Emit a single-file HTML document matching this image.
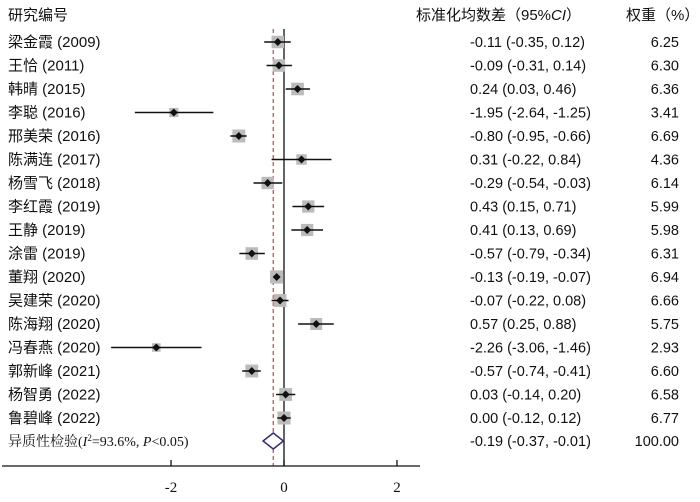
<!DOCTYPE html>
<html><head><meta charset="utf-8"><style>
body{margin:0;background:#fff;}
svg text{font-family:"Liberation Sans","Noto Sans CJK SC",sans-serif;fill:#111;}
svg text.serif{font-family:"Liberation Serif","Noto Serif CJK SC",serif;}
</style></head><body>
<svg width="700" height="497" viewBox="0 0 700 497" xmlns="http://www.w3.org/2000/svg">
<g id="g"></g>
</svg>
<script>
const studies=["梁金霞 (2009)","王恰 (2011)","韩晴 (2015)","李聪 (2016)","邢美荣 (2016)","陈满连 (2017)","杨雪飞 (2018)","李红霞 (2019)","王静 (2019)","涂雷 (2019)","董翔 (2020)","吴建荣 (2020)","陈海翔 (2020)","冯春燕 (2020)","郭新峰 (2021)","杨智勇 (2022)","鲁碧峰 (2022)"];
const est=[-0.11,-0.09,0.24,-1.95,-0.80,0.31,-0.29,0.43,0.41,-0.57,-0.13,-0.07,0.57,-2.26,-0.57,0.03,0.00];
const lo=[-0.35,-0.31,0.03,-2.64,-0.95,-0.22,-0.54,0.15,0.13,-0.79,-0.19,-0.22,0.25,-3.06,-0.74,-0.14,-0.12];
const hi=[0.12,0.14,0.46,-1.25,-0.66,0.84,-0.03,0.71,0.69,-0.34,-0.07,0.08,0.88,-1.46,-0.41,0.20,0.12];
const weights=[6.25,6.30,6.36,3.41,6.69,4.36,6.14,5.99,5.98,6.31,6.94,6.66,5.75,2.93,6.60,6.58,6.77];
const pooled=[-0.19,-0.37,-0.01,100.00];
const ticks=[-2,0,2];
const g=document.getElementById('g');const NS="http://www.w3.org/2000/svg";
const X=v=>284+v*56.5;const Y=i=>42+i*23.5;
function el(t,a,txt){const e=document.createElementNS(NS,t);for(const k in a)e.setAttribute(k,a[k]);if(txt!==undefined)e.textContent=txt;g.appendChild(e);return e;}
const f=v=>v.toFixed(2);
let e;
e=el('text',{x:8,y:20,'font-size':15},'研究编号');
e=el('text',{x:416,y:20,'font-size':15},'');
e.innerHTML='标准化均数差（95%<tspan font-style="italic">CI</tspan>）';
e=el('text',{x:626,y:20,'font-size':15},'权重（%）');
e=el('line',{x1:X(0),x2:X(0),y1:29,y2:466,stroke:'#111','stroke-width':1.3});
e=el('line',{x1:X(pooled[0]),x2:X(pooled[0]),y1:29,y2:466,stroke:'#b06060','stroke-width':1.3,'stroke-dasharray':'4,3'});
studies.forEach((s,i)=>{const y=Y(i);
e=el('text',{x:8,y:y+5,'font-size':15},s);
const sz=Math.sqrt(weights[i])*5;
e=el('rect',{x:X(est[i])-sz/2,y:y-sz/2,width:sz,height:sz,fill:'#bbb'});
e=el('line',{x1:X(lo[i]),x2:X(hi[i]),y1:y,y2:y,stroke:'#111','stroke-width':1.5});
e=el('path',{d:`M${X(est[i])-4} ${y}L${X(est[i])} ${y-4}L${X(est[i])+4} ${y}L${X(est[i])} ${y+4}Z`,fill:'#111'});
e=el('text',{x:470,y:y+5,'font-size':14.5},`${f(est[i])} (${f(lo[i])}, ${f(hi[i])})`);
e=el('text',{x:679,y:y+5,'font-size':14.5,'text-anchor':'end'},f(weights[i]));
});
const ys=441;
e=el('text',{x:8,y:ys+5,'font-size':14,'class':'serif'},'');
e.innerHTML='异质性检验(<tspan font-style="italic">I</tspan><tspan font-size="9" dy="-5">2</tspan><tspan dy="5">=93.6%, </tspan><tspan font-style="italic">P</tspan>&lt;0.05)';
e=el('path',{d:`M${X(pooled[1])} ${ys}L${X(pooled[0])} ${ys-8}L${X(pooled[2])} ${ys}L${X(pooled[0])} ${ys+8}Z`,fill:'#fff',stroke:'#3a2a70','stroke-width':1.5});
e=el('text',{x:470,y:ys+5,'font-size':14.5},`${f(pooled[0])} (${f(pooled[1])}, ${f(pooled[2])})`);
e=el('text',{x:679,y:ys+5,'font-size':14.5,'text-anchor':'end'},f(pooled[3]));
e=el('line',{x1:2,x2:420,y1:466,y2:466,stroke:'#111','stroke-width':1.3});
ticks.forEach(t=>{
e=el('line',{x1:X(t),x2:X(t),y1:460,y2:466,stroke:'#111','stroke-width':1.3});
e=el('text',{x:X(t),y:492,'font-size':15,'text-anchor':'middle','class':'serif'},String(t));
});
</script>
</body></html>
